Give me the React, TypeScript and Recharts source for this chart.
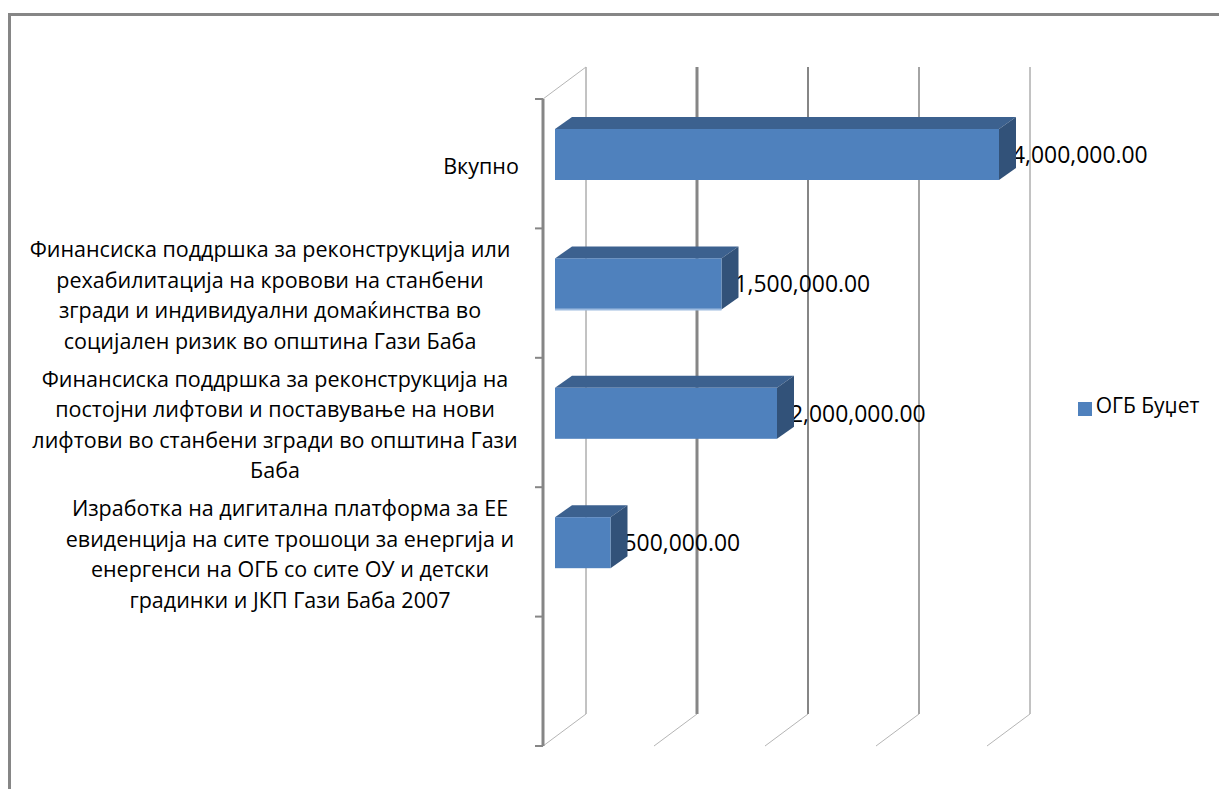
import { BarChart, Bar, XAxis, YAxis, CartesianGrid, Legend } from "recharts";

const categories = [
  "Вкупно",
  "Финансиска поддршка за реконструкција или рехабилитација на кровови на станбени згради и индивидуални домаќинства во социјален ризик во општина Гази Баба",
  "Финансиска поддршка за реконструкција на постојни лифтови и поставување на нови лифтови во станбени згради во општина Гази Баба",
  "Изработка на дигитална платформа за ЕЕ евиденција на сите трошоци за енергија и енергенси на ОГБ со сите ОУ и детски градинки и ЈКП Гази Баба 2007",
  "",
];
const categoryLines = [
  ["Вкупно"],
  [
    "Финансиска поддршка за реконструкција или",
    "рехабилитација на кровови на станбени",
    "згради и индивидуални домаќинства во",
    "социјален ризик во општина Гази Баба",
  ],
  [
    "Финансиска поддршка за реконструкција на",
    "постојни лифтови и поставување на нови",
    "лифтови во станбени згради во општина Гази",
    "Баба",
  ],
  [
    "Изработка на дигитална платформа за ЕЕ",
    "евиденција на сите трошоци за енергија и",
    "енергенси на ОГБ со сите ОУ и детски",
    "градинки и ЈКП Гази Баба 2007",
  ],
  [],
];
const budget = [4000000, 1500000, 2000000, 500000, null];
const xTicks = [0, 1000000, 2000000, 3000000, 4000000];

const data = categories.map((name, i) => ({ name, budget: budget[i] }));

const FONT = "'Open Sans', sans-serif";
const PLOT_TOP = 99;
const PLOT_BOTTOM = 746;
const BAND = (PLOT_BOTTOM - PLOT_TOP) / categories.length;
const labelCenter = [481, 270, 275, 290, 270];
const gridWidths = [1, 3, 2, 1.5, 1];

const fmt = (v: number) =>
  v.toLocaleString("en-US", { minimumFractionDigits: 2, maximumFractionDigits: 2 });

const CategoryTick = (props: any) => {
  const { x, y, index } = props;
  const lines = categoryLines[index] || [];
  const top = y + 1 - ((lines.length - 1) * 30.5) / 2;
  return (
    <g>
      <line x1={x - 8} x2={x} y1={y - BAND / 2} y2={y - BAND / 2} stroke="#868686" strokeWidth={2} />
      {index === categories.length - 1 && (
        <line x1={x - 8} x2={x} y1={y + BAND / 2} y2={y + BAND / 2} stroke="#868686" strokeWidth={2} />
      )}
      <text x={labelCenter[index]} y={top} textAnchor="middle" dominantBaseline="central" fontSize={21.5} fontFamily={FONT} fill="#000">
        {lines.map((line: string, i: number) => (
          <tspan key={i} x={labelCenter[index]} y={top + i * 30.5}>
            {line}
          </tspan>
        ))}
      </text>
    </g>
  );
};

const Bar3D = (props: any) => {
  const { x, y, width, height, value, index } = props;
  if (value == null) return null;
  const fx = x + 12;
  const fy = y - 9;
  const dx = 17;
  const dy = 12;
  const r = fx + width;
  const b = fy + height;
  return (
    <g>
      {/* label sits behind the bar, its first digit is partly covered like in the original */}
      <text x={r + 13} y={fy + height / 2} dominantBaseline="central" fontSize={22.9} fontFamily={FONT} fill="#000">
        {fmt(value)}
      </text>
      <polygon points={`${fx},${fy} ${fx + dx},${fy - dy} ${r + dx},${fy - dy} ${r},${fy}`} fill="#3C618F" />
      <polygon points={`${r},${fy} ${r + dx},${fy - dy} ${r + dx},${b - dy} ${r},${b}`} fill="#325279" />
      <rect x={fx} y={fy} width={width} height={height} fill="#4F81BD" />
      {index === 1 && <line x1={fx} x2={r} y1={b} y2={b} stroke="#9DBBE0" strokeWidth={2} />}
    </g>
  );
};

const GridLine = (props: any) => {
  const { x1, index } = props;
  const back = x1 + 43;
  return (
    <g>
      <line x1={back} x2={back} y1={67} y2={714} stroke="#868686" strokeWidth={gridWidths[index] ?? 1} />
      <line x1={x1} x2={back} y1={746} y2={714} stroke="#b5b5b5" />
      {index === 0 && <line x1={x1} x2={back} y1={99} y2={67} stroke="#b5b5b5" />}
    </g>
  );
};

const App = () => {
  return (
    <div style={{ position: "absolute", left: 0, top: 0, width: 1219, height: 789, background: "#fff", overflow: "hidden" }}>
      <div style={{ position: "absolute", left: 8, top: 13, width: 1300, height: 900, borderLeft: "3px solid #868686", borderTop: "3px solid #868686" }} />
      <div style={{ position: "absolute", left: 0, top: 0 }}>
        <BarChart
          width={1219}
          height={789}
          data={data}
          layout="vertical"
          margin={{ top: PLOT_TOP, right: 232, bottom: 789 - PLOT_BOTTOM, left: 0 }}
        >
          <CartesianGrid horizontal={false} vertical={GridLine as any} stroke="#868686" />
          <XAxis type="number" domain={[0, 4000000]} ticks={xTicks} hide />
          <YAxis
            type="category"
            dataKey="name"
            width={543}
            interval={0}
            tick={CategoryTick}
            tickLine={false}
            tickSize={0}
            tickMargin={0}
            axisLine={{ stroke: "#868686", strokeWidth: 3 }}
          />
          <Bar dataKey="budget" name="ОГБ Буџет" fill="#4F81BD" barSize={51} shape={Bar3D} isAnimationActive={false} />
          <Legend
            layout="horizontal"
            align="center"
            verticalAlign="middle"
            iconType="square"
            iconSize={14}
            formatter={(value: string) => <span style={{ color: "#000", fontSize: 21, fontFamily: FONT }}>{value}</span>}
            wrapperStyle={{ position: "absolute", left: 1071, top: 391, width: 145, height: 32, bottom: "auto", right: "auto" }}
          />
        </BarChart>
      </div>
    </div>
  );
};

export default App;
